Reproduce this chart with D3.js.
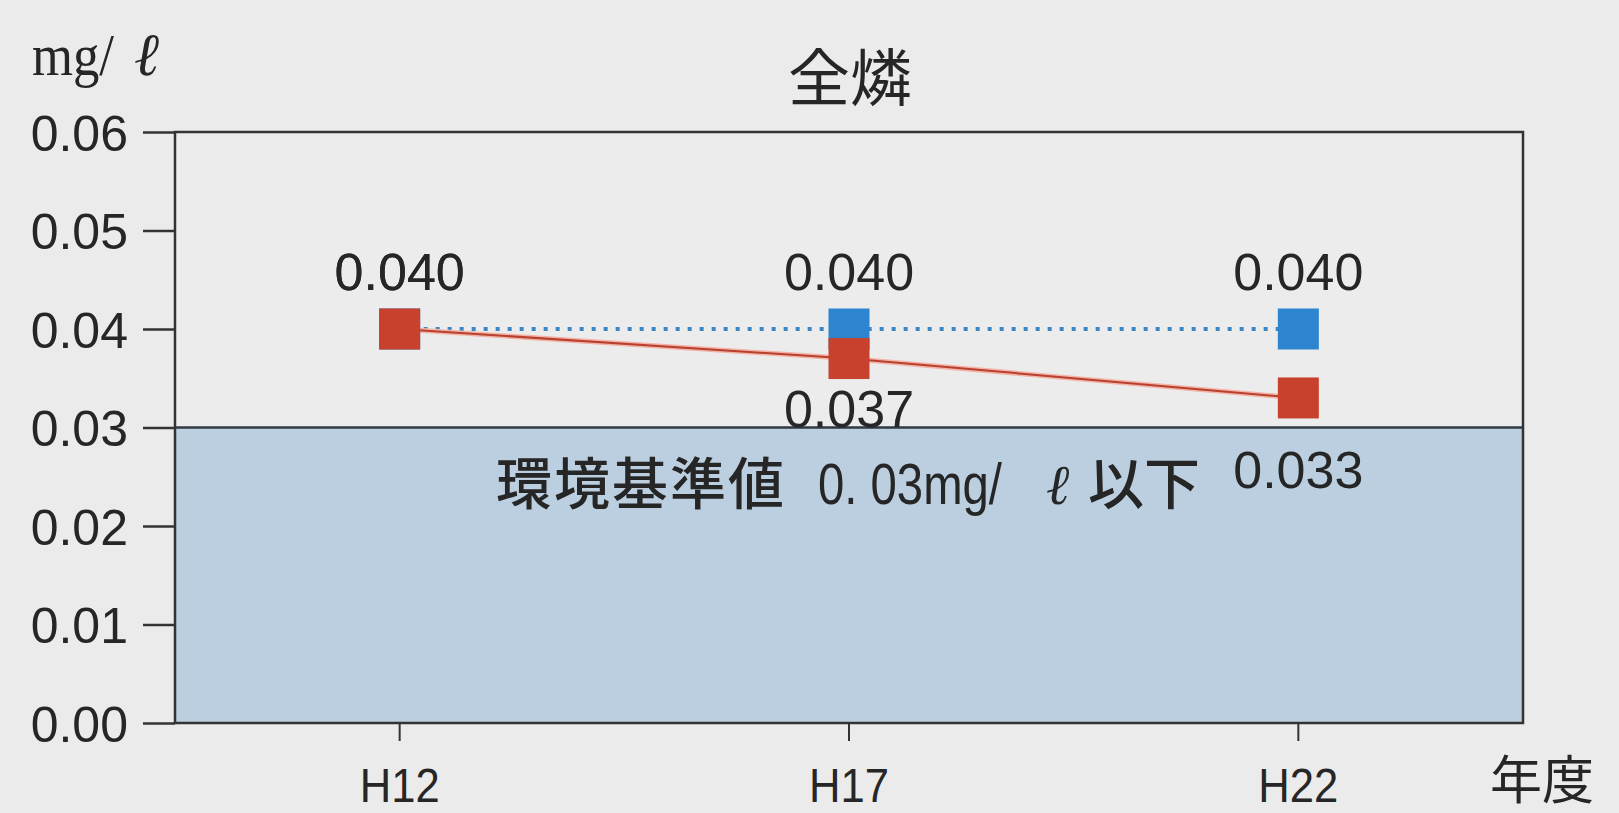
<!DOCTYPE html>
<html>
<head>
<meta charset="utf-8">
<script src="https://cdn.jsdelivr.net/npm/d3@7"></script>
<style>
  html, body { margin: 0; padding: 0; background: #ebebeb; }
  svg { display: block; }
</style>
</head>
<body>
<svg id="chart" width="1619" height="813"></svg>
<script>
// Total phosphorus (全燐) by survey year
const years = ["H12", "H17", "H22"];
const standardSeries = [0.040, 0.040, 0.040];   // blue, dotted
const measuredSeries = [0.040, 0.037, 0.033];   // red, solid
const standardLabels = ["0.040", "0.040", "0.040"];
const measuredLabels = ["0.040", "0.037", "0.033"];
const yTicks = [0, 0.01, 0.02, 0.03, 0.04, 0.05, 0.06];
const envStandard = 0.03;

const svg = d3.select("#chart");
const W = 1619, H = 813;
const plotL = 175, plotR = 1523, plotT = 132, plotB = 723;

const numFont = "'Liberation Sans', Arial, sans-serif";
const jpFont = "'Noto Sans CJK JP', sans-serif";
const serifFont = "'Liberation Serif', serif";
const ink = "#262626";

const x = d3.scaleBand().domain(years).range([plotL, plotR]).padding(0);
const cx = d => x(d) + x.bandwidth() / 2;
const y = d3.scaleLinear().domain([0, 0.06]).range([plotB, plotT]);

svg.append("rect").attr("width", W).attr("height", H).attr("fill", "#ebebeb");

// plot background
svg.append("rect")
  .attr("x", plotL).attr("y", plotT)
  .attr("width", plotR - plotL).attr("height", plotB - plotT)
  .attr("fill", "#ececec");

// shaded area at or below the environmental standard
svg.append("rect")
  .attr("x", plotL).attr("y", y(envStandard))
  .attr("width", plotR - plotL).attr("height", y(0) - y(envStandard))
  .attr("fill", "#bccfe0");

svg.append("line")
  .attr("x1", plotL).attr("x2", plotR)
  .attr("y1", y(envStandard)).attr("y2", y(envStandard))
  .attr("stroke", "#2f3a44").attr("stroke-width", 2.5);

// standard caption
const cap = svg.append("text")
  .attr("y", y(envStandard) + 76)
  .attr("fill", ink);
cap.append("tspan").attr("x", 496)
  .attr("font-family", jpFont).attr("font-size", 56).attr("font-weight", 500)
  .attr("letter-spacing", 2)
  .text("環境基準値");
cap.append("tspan").attr("x", 818)
  .attr("font-family", numFont).attr("font-size", 58)
  .attr("textLength", 184).attr("lengthAdjust", "spacingAndGlyphs")
  .text("0. 03mg/");
cap.append("tspan").attr("x", 1046)
  .attr("font-family", serifFont).attr("font-style", "italic").attr("font-size", 56)
  .text("ℓ");
cap.append("tspan").attr("x", 1088)
  .attr("font-family", jpFont).attr("font-size", 56).attr("font-weight", 500)
  .text("以下");

// frame
svg.append("rect")
  .attr("x", plotL).attr("y", plotT)
  .attr("width", plotR - plotL).attr("height", plotB - plotT)
  .attr("fill", "none").attr("stroke", "#333").attr("stroke-width", 2.5);

// y axis
const yAxis = svg.append("g")
  .attr("transform", `translate(${plotL},0)`)
  .call(d3.axisLeft(y).tickValues(yTicks).tickFormat(d3.format(".2f"))
    .tickSize(32).tickPadding(15));
yAxis.select(".domain").remove();
yAxis.selectAll(".tick line").attr("stroke", "#333").attr("stroke-width", 2.5);
yAxis.selectAll(".tick text")
  .attr("font-family", numFont).attr("font-size", 50).attr("fill", ink)
  .attr("dy", "0.36em");

// x axis
const xAxis = svg.append("g")
  .attr("transform", `translate(0,${plotB})`)
  .call(d3.axisBottom(x).tickSize(18));
xAxis.select(".domain").remove();
xAxis.selectAll(".tick line").attr("stroke", "#333").attr("stroke-width", 2);
xAxis.selectAll(".tick text")
  .attr("font-family", numFont).attr("font-size", 49).attr("fill", ink)
  .attr("y", 79).attr("dy", 0)
  .attr("textLength", 80).attr("lengthAdjust", "spacingAndGlyphs");

// unit and axis titles
const unit = svg.append("text").attr("y", 75).attr("fill", ink)
  .attr("font-family", serifFont).attr("font-size", 60);
unit.append("tspan").attr("x", 32)
  .attr("textLength", 82).attr("lengthAdjust", "spacingAndGlyphs")
  .text("mg/");
unit.append("tspan").attr("x", 134).attr("font-style", "italic")
  .text("ℓ");

svg.append("text")
  .attr("x", 850).attr("y", 101)
  .attr("text-anchor", "middle")
  .attr("font-family", jpFont).attr("font-size", 62).attr("fill", ink)
  .text("全燐");

svg.append("text")
  .attr("x", 1542).attr("y", 799)
  .attr("text-anchor", "middle")
  .attr("font-family", jpFont).attr("font-size", 52).attr("fill", ink)
  .text("年度");

// lines
const line = d3.line().x((d, i) => cx(years[i])).y(d => y(d));

svg.append("path")
  .datum(standardSeries)
  .attr("d", line)
  .attr("fill", "none")
  .attr("stroke", "#3b86c8").attr("stroke-width", 4)
  .attr("stroke-dasharray", "4 8");

svg.append("path")
  .datum(measuredSeries)
  .attr("d", line)
  .attr("fill", "none")
  .attr("stroke", "#f3b3a6").attr("stroke-width", 5);
svg.append("path")
  .datum(measuredSeries)
  .attr("d", line)
  .attr("fill", "none")
  .attr("stroke", "#b8402f").attr("stroke-width", 2);

// markers
const ms = 41;
svg.selectAll(".mk-std").data(standardSeries).join("rect")
  .attr("class", "mk-std")
  .attr("x", (d, i) => cx(years[i]) - ms / 2)
  .attr("y", d => y(d) - ms / 2)
  .attr("width", ms).attr("height", ms)
  .attr("fill", "#2d84cf");

svg.selectAll(".mk-meas").data(measuredSeries).join("rect")
  .attr("class", "mk-meas")
  .attr("x", (d, i) => cx(years[i]) - ms / 2)
  .attr("y", d => y(d) - ms / 2)
  .attr("width", ms).attr("height", ms)
  .attr("fill", "#c8412c");

// value labels (baseline offsets from the marker centre)
const aboveGap = -39;
svg.selectAll(".lb-std").data(standardSeries).join("text")
  .attr("class", "lb-std")
  .attr("x", (d, i) => cx(years[i]))
  .attr("y", d => y(d) + aboveGap)
  .attr("text-anchor", "middle")
  .attr("font-family", numFont).attr("font-size", 52).attr("fill", ink)
  .text((d, i) => standardLabels[i]);

// measured labels sit below their marker, clearing the standard line
const belowGap = [68, 68, 90];
svg.selectAll(".lb-meas").data(measuredSeries).join("text")
  .attr("class", "lb-meas")
  .attr("x", (d, i) => cx(years[i]))
  .attr("y", (d, i) => d === standardSeries[i] ? y(d) + aboveGap : y(d) + belowGap[i])
  .attr("text-anchor", "middle")
  .attr("font-family", numFont).attr("font-size", 52).attr("fill", ink)
  .text((d, i) => measuredLabels[i]);
</script>
</body>
</html>
